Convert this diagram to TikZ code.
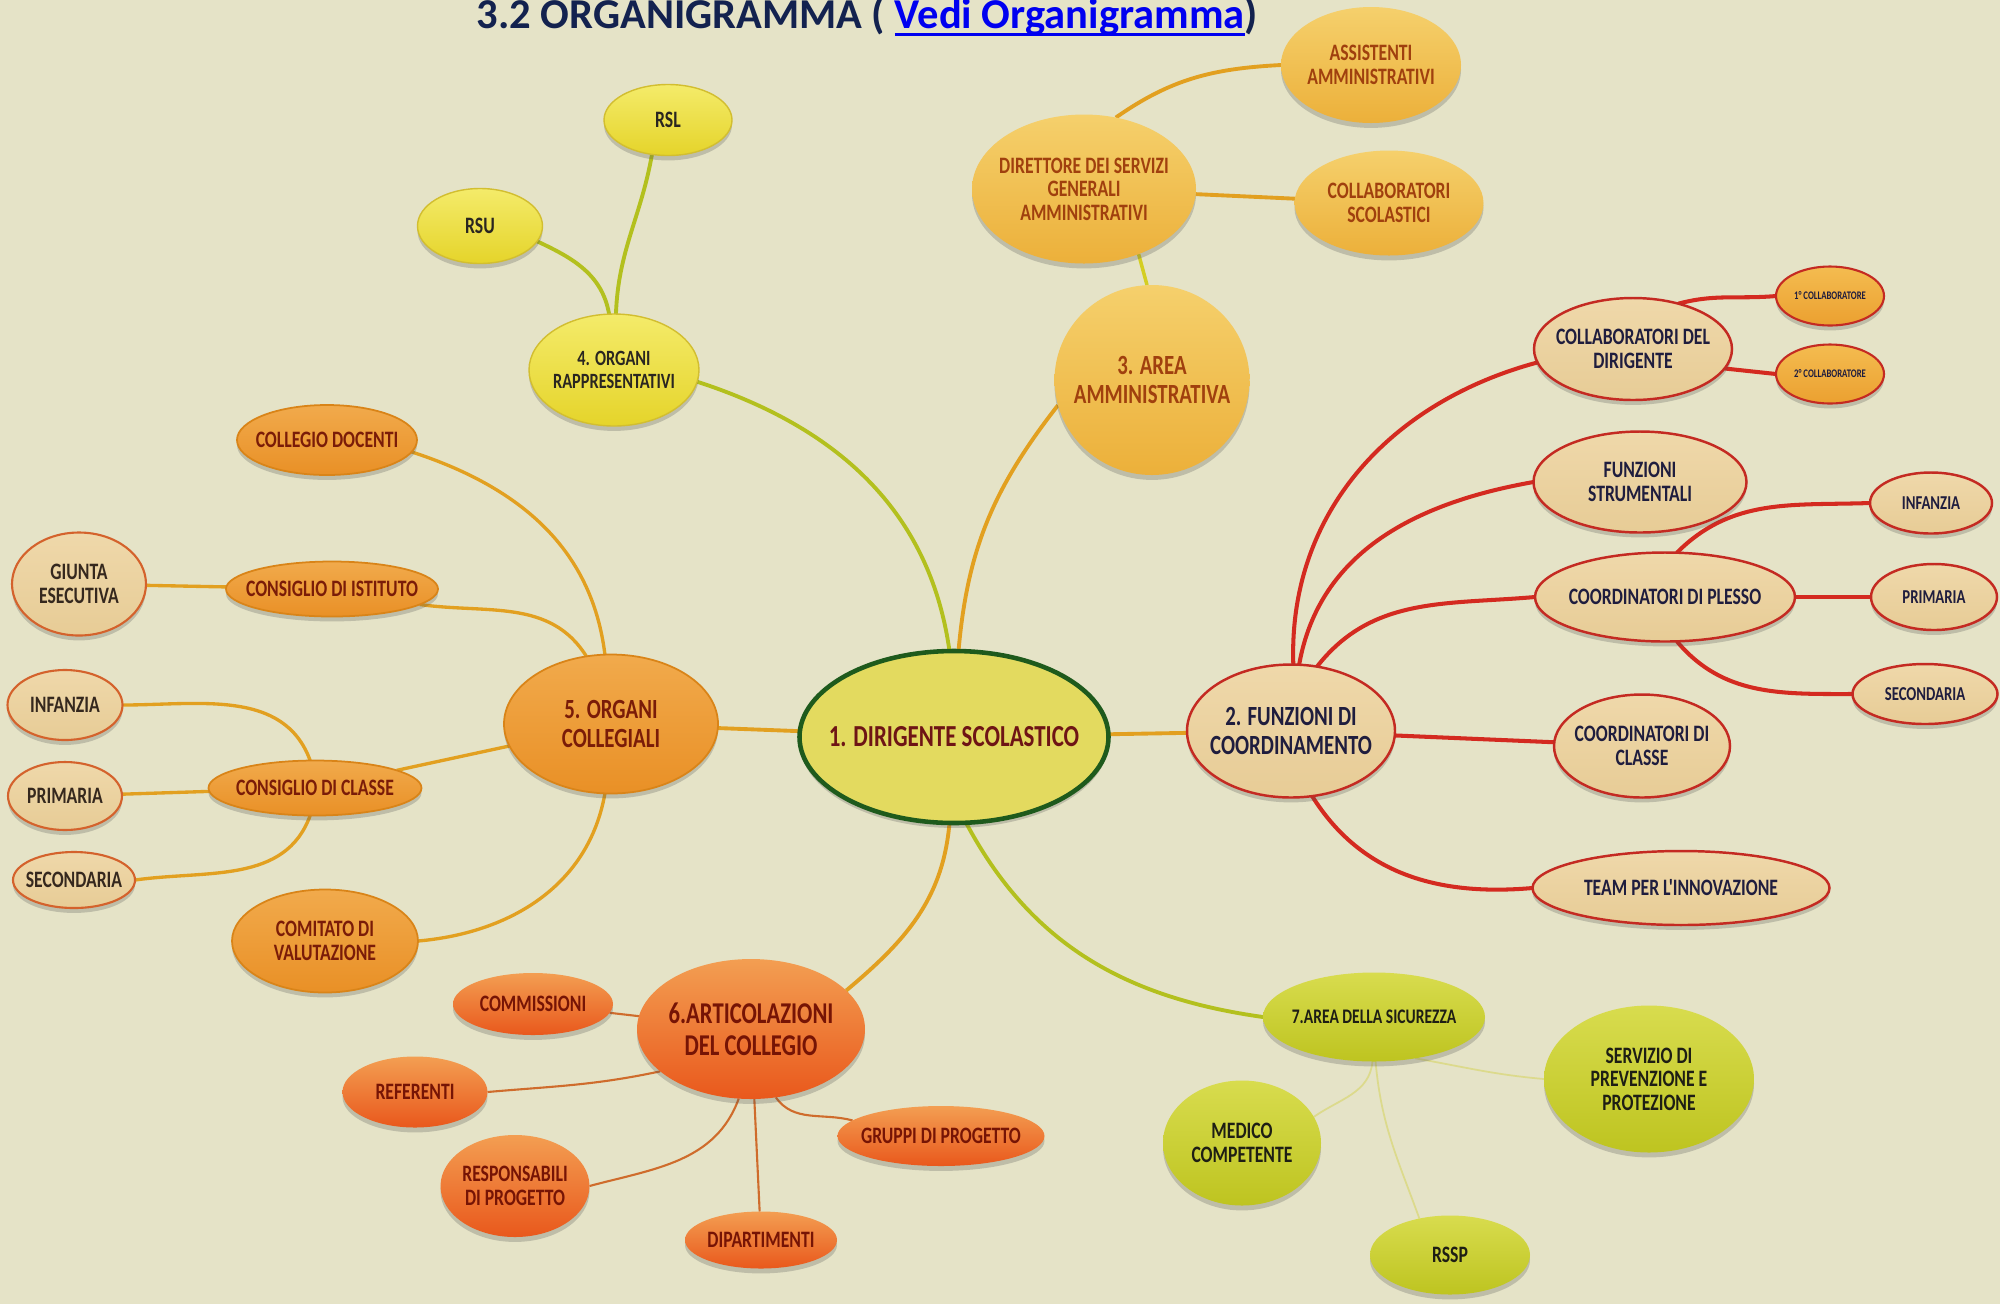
\documentclass[tikz,border=0pt]{standalone}
\usepackage{fontspec}
\setmainfont{Carlito}
\newfontfamily\nodefont{Carlito}[FakeStretch=0.75]
\usetikzlibrary{shapes.geometric,shadows}

% palette
\definecolor{bg}{HTML}{E5E3C7}
\definecolor{titlenavy}{HTML}{13224F}
\definecolor{linkblue}{HTML}{0000F0}
\definecolor{mainfill}{HTML}{E3DA5F}
\definecolor{mainborder}{HTML}{1E5A1C}
\definecolor{maintxt}{HTML}{6E1515}
\definecolor{tantop}{HTML}{EFD8AA}
\definecolor{tanbot}{HTML}{E7CC96}
\definecolor{redborder}{HTML}{C42A22}
\definecolor{tantxt}{HTML}{1F1D3E}
\definecolor{ltanborder}{HTML}{D4622C}
\definecolor{ltantxt}{HTML}{35281E}
\definecolor{ofivetop}{HTML}{F1AA4C}
\definecolor{ofivebot}{HTML}{E99026}
\definecolor{ofiveborder}{HTML}{D98418}
\definecolor{ofivetxt}{HTML}{7A1C08}
\definecolor{othreetop}{HTML}{F5D06C}
\definecolor{othreebot}{HTML}{ECB03A}
\definecolor{othreetxt}{HTML}{A0400E}
\definecolor{yfourtop}{HTML}{F4EB6A}
\definecolor{yfourbot}{HTML}{E5D42A}
\definecolor{yfourborder}{HTML}{D2BE30}
\definecolor{yfourtxt}{HTML}{2A2620}
\definecolor{osixtop}{HTML}{F39E52}
\definecolor{osixbot}{HTML}{E9581C}
\definecolor{osixtxt}{HTML}{761405}
\definecolor{gseventop}{HTML}{D8DC4E}
\definecolor{gsevenbot}{HTML}{BEC420}
\definecolor{gseventxt}{HTML}{1E1E14}
\definecolor{minitop}{HTML}{F4BC50}
\definecolor{minibot}{HTML}{EBA030}
\definecolor{lineY}{HTML}{B3C01E}
\definecolor{lineO}{HTML}{E2A020}
\definecolor{lineR}{HTML}{D42A20}
\definecolor{lineSix}{HTML}{CF6C2C}
\definecolor{lineP}{HTML}{DCDA8C}
\definecolor{lineThree}{HTML}{D4CE22}

% underline drawn as a rule just below the baseline
\newcommand\linkline[1]{\leavevmode\setbox0\hbox{#1}\rlap{\rule[-2.2pt]{\wd0}{0.9pt}}\box0}

\pgfdeclarelayer{edges}
\pgfsetlayers{edges,main}

\tikzset{
  blob/.style={ellipse, inner sep=0pt, outer sep=0pt},
  softshadow/.style={drop shadow={shadow xshift=0pt, shadow yshift=-1.4pt, opacity=0.25, fill=black!70}},
  mainov/.style={blob, fill=mainfill, draw=mainborder, line width=1.3pt, softshadow},
  tanov/.style={blob, top color=tantop, bottom color=tanbot, draw=redborder, line width=0.7pt, softshadow},
  ltanov/.style={blob, top color=tantop, bottom color=tanbot, draw=ltanborder, line width=0.6pt, softshadow},
  fiveov/.style={blob, top color=ofivetop, bottom color=ofivebot, draw=ofiveborder, line width=0.5pt, softshadow},
  threeov/.style={blob, top color=othreetop, bottom color=othreebot, softshadow},
  fourov/.style={blob, top color=yfourtop, bottom color=yfourbot, draw=yfourborder, line width=0.4pt, softshadow},
  sixov/.style={blob, top color=osixtop, bottom color=osixbot, softshadow},
  sevenov/.style={blob, top color=gseventop, bottom color=gsevenbot, softshadow},
  miniov/.style={blob, top color=minitop, bottom color=minibot, draw=redborder, line width=0.6pt, softshadow},
  tmain/.style={font=\nodefont\bfseries\fontsize{8.7}{9.2}\selectfont, align=center, text=maintxt},
  tone/.style={font=\nodefont\bfseries\fontsize{7.9}{8.5}\selectfont, align=center},
  tsixx/.style={font=\nodefont\bfseries\fontsize{8.6}{9.0}\selectfont, align=center},
  tkid/.style={font=\nodefont\bfseries\fontsize{6.7}{6.7}\selectfont, align=center},
  tfour/.style={font=\nodefont\bfseries\fontsize{6.2}{6.6}\selectfont, align=center},
  tsev/.style={font=\nodefont\bfseries\fontsize{5.9}{6.3}\selectfont, align=center},
  tsm/.style={font=\nodefont\bfseries\fontsize{5.6}{5.8}\selectfont, align=center},
  ttiny/.style={font=\nodefont\bfseries\fontsize{3.3}{3.5}\selectfont, align=center},
  lnY/.style={draw=lineY, line width=1.1pt},
  lnO/.style={draw=lineO, line width=1.1pt},
  lnFive/.style={draw=lineO, line width=0.95pt},
  lnR/.style={draw=lineR, line width=1.15pt},
  lnSix/.style={draw=lineSix, line width=0.6pt},
  lnP/.style={draw=lineP, line width=0.5pt},
}

\begin{document}
\begin{tikzpicture}
\useasboundingbox (0,0) rectangle (20,-13.04);
\begin{pgfonlayer}{edges}
  \fill[bg] (0,0) rectangle (20,-13.04);
\end{pgfonlayer}
\clip (0,0) rectangle (20,-13.04);

% heading
\node[anchor=base west, inner sep=0pt, text=titlenavy,
      font=\bfseries\fontsize{12.1}{14}\selectfont] (title) at (4.76,-0.285)
  {3.2 ORGANIGRAMMA ( {\color{linkblue}\linkline{Vedi Organigramma}})};

% centre
\node[mainov, minimum width=3.09cm, minimum height=1.72cm,
      label={[tmain]center:1. DIRIGENTE SCOLASTICO}] (c) at (9.54,-7.37) {};

% 2. coordination
\node[tanov, minimum width=2.08cm, minimum height=1.33cm,
      label={[tone,text=tantxt]center:{2. FUNZIONI DI\\COORDINAMENTO}}] (n2) at (12.91,-7.31) {};
\node[tanov, minimum width=1.98cm, minimum height=1.02cm,
      label={[tkid,text=tantxt]center:{COLLABORATORI DEL\\DIRIGENTE}}] (cdir) at (16.33,-3.49) {};
\node[miniov, minimum width=1.08cm, minimum height=0.59cm,
      label={[ttiny,text=tantxt]center:{1° COLLABORATORE}}] (ca) at (18.30,-2.96) {};
\node[miniov, minimum width=1.08cm, minimum height=0.59cm,
      label={[ttiny,text=tantxt]center:{2° COLLABORATORE}}] (cb) at (18.30,-3.74) {};
\node[tanov, minimum width=2.13cm, minimum height=1.01cm,
      label={[tkid,text=tantxt]center:{FUNZIONI\\STRUMENTALI}}] (fstr) at (16.40,-4.82) {};
\node[tanov, minimum width=2.60cm, minimum height=0.89cm,
      label={[tkid,text=tantxt]center:{COORDINATORI DI PLESSO}}] (cpl) at (16.65,-5.97) {};
\node[tanov, minimum width=1.22cm, minimum height=0.61cm,
      label={[tsm,text=tantxt]center:{INFANZIA}}] (infr) at (19.31,-5.03) {};
\node[tanov, minimum width=1.26cm, minimum height=0.66cm,
      label={[tsm,text=tantxt]center:{PRIMARIA}}] (prr) at (19.34,-5.97) {};
\node[tanov, minimum width=1.45cm, minimum height=0.60cm,
      label={[tsm,text=tantxt]center:{SECONDARIA}}] (secr) at (19.25,-6.94) {};
\node[tanov, minimum width=1.76cm, minimum height=1.03cm,
      label={[tkid,text=tantxt]center:{COORDINATORI DI\\CLASSE}}] (ccl) at (16.42,-7.46) {};
\node[tanov, minimum width=2.97cm, minimum height=0.74cm,
      label={[tkid,text=tantxt]center:{TEAM PER L'INNOVAZIONE}}] (team) at (16.81,-8.88) {};

% 3. administration
\node[threeov, minimum width=1.95cm, minimum height=1.90cm,
      label={[tone,text=othreetxt]center:{3. AREA\\AMMINISTRATIVA}}] (n3) at (11.52,-3.80) {};
\node[threeov, minimum width=2.24cm, minimum height=1.49cm,
      label={[tkid,text=othreetxt]center:{DIRETTORE DEI SERVIZI\\GENERALI\\AMMINISTRATIVI}}] (dir) at (10.84,-1.89) {};
\node[threeov, minimum width=1.80cm, minimum height=1.16cm,
      label={[tkid,text=othreetxt]center:{ASSISTENTI\\AMMINISTRATIVI}}] (assist) at (13.71,-0.65) {};
\node[threeov, minimum width=1.89cm, minimum height=1.05cm,
      label={[tkid,text=othreetxt]center:{COLLABORATORI\\SCOLASTICI}}] (collsc) at (13.89,-2.03) {};

% 4. representative bodies
\node[fourov, minimum width=1.70cm, minimum height=1.12cm,
      label={[tfour,text=yfourtxt]center:{4. ORGANI\\RAPPRESENTATIVI}}] (n4) at (6.14,-3.70) {};
\node[fourov, minimum width=1.25cm, minimum height=0.75cm,
      label={[tkid,text=yfourtxt]center:{RSU}}] (rsu) at (4.80,-2.26) {};
\node[fourov, minimum width=1.28cm, minimum height=0.71cm,
      label={[tkid,text=yfourtxt]center:{RSL}}] (rsl) at (6.68,-1.20) {};

% 5. collegial bodies
\node[fiveov, minimum width=2.14cm, minimum height=1.39cm,
      label={[tone,text=ofivetxt]center:{5. ORGANI\\COLLEGIALI}}] (n5) at (6.11,-7.24) {};
\node[fiveov, minimum width=1.80cm, minimum height=0.70cm,
      label={[tkid,text=ofivetxt]center:{COLLEGIO DOCENTI}}] (colld) at (3.27,-4.40) {};
\node[fiveov, minimum width=2.12cm, minimum height=0.55cm,
      label={[tkid,text=ofivetxt]center:{CONSIGLIO DI ISTITUTO}}] (cist) at (3.32,-5.89) {};
\node[ltanov, minimum width=1.34cm, minimum height=1.03cm,
      label={[tkid,text=ltantxt]center:{GIUNTA\\ESECUTIVA}}] (giunta) at (0.79,-5.84) {};
\node[fiveov, minimum width=2.13cm, minimum height=0.55cm,
      label={[tkid,text=ofivetxt]center:{CONSIGLIO DI CLASSE}}] (cdc) at (3.15,-7.88) {};
\node[ltanov, minimum width=1.15cm, minimum height=0.70cm,
      label={[tkid,text=ltantxt]center:{INFANZIA}}] (infl) at (0.65,-7.05) {};
\node[ltanov, minimum width=1.14cm, minimum height=0.68cm,
      label={[tkid,text=ltantxt]center:{PRIMARIA}}] (priml) at (0.65,-7.96) {};
\node[ltanov, minimum width=1.22cm, minimum height=0.56cm,
      label={[tkid,text=ltantxt]center:{SECONDARIA}}] (secl) at (0.74,-8.80) {};
\node[fiveov, minimum width=1.86cm, minimum height=1.03cm,
      label={[tkid,text=ofivetxt]center:{COMITATO DI\\VALUTAZIONE}}] (comit) at (3.25,-9.41) {};

% 6. articulations of the teaching staff
\node[sixov, minimum width=2.28cm, minimum height=1.40cm,
      label={[tsixx,text=osixtxt]center:{6.ARTICOLAZIONI\\DEL COLLEGIO}}] (n6) at (7.51,-10.29) {};
\node[sixov, minimum width=1.60cm, minimum height=0.62cm,
      label={[tkid,text=osixtxt]center:{COMMISSIONI}}] (comm) at (5.33,-10.04) {};
\node[sixov, minimum width=1.45cm, minimum height=0.71cm,
      label={[tkid,text=osixtxt]center:{REFERENTI}}] (ref) at (4.15,-10.92) {};
\node[sixov, minimum width=1.49cm, minimum height=1.02cm,
      label={[tkid,text=osixtxt]center:{RESPONSABILI\\DI PROGETTO}}] (resp) at (5.15,-11.86) {};
\node[sixov, minimum width=1.52cm, minimum height=0.57cm,
      label={[tkid,text=osixtxt]center:{DIPARTIMENTI}}] (dip) at (7.61,-12.40) {};
\node[sixov, minimum width=2.07cm, minimum height=0.60cm,
      label={[tkid,text=osixtxt]center:{GRUPPI DI PROGETTO}}] (grp) at (9.41,-11.36) {};

% 7. safety
\node[sevenov, minimum width=2.22cm, minimum height=0.89cm,
      label={[tsev,text=gseventxt]center:{7.AREA DELLA SICUREZZA}}] (n7) at (13.74,-10.17) {};
\node[sevenov, minimum width=2.10cm, minimum height=1.47cm,
      label={[tkid,text=gseventxt]center:{SERVIZIO DI\\PREVENZIONE E\\PROTEZIONE}}] (serv) at (16.49,-10.79) {};
\node[sevenov, minimum width=1.58cm, minimum height=1.25cm,
      label={[tkid,text=gseventxt]center:{MEDICO\\COMPETENTE}}] (med) at (12.42,-11.43) {};
\node[sevenov, minimum width=1.60cm, minimum height=0.79cm,
      label={[tkid,text=gseventxt]center:{RSSP}}] (rssp) at (14.50,-12.55) {};

% connectors, kept behind the ovals
\begin{pgfonlayer}{edges}
  % from the centre
  \draw[lnY] (c.93) to[out=98,in=-18] (n4.-8);
  \draw[lnO] (c.87) to[out=85,in=-128] (n3.195);
  \draw[lnO] (c) -- (n2);
  \draw[lnO] (c) -- (n5);
  \draw[lnO] (c.-93) to[out=-95,in=40] (n6.22);
  \draw[lnY] (c.-82) to[out=-62,in=172] (n7.west);

  % 2
  \draw[lnR] (n2.88) to[out=92,in=195] (cdir.188);
  \draw[lnR] (n2.83) to[out=80,in=190] (fstr.west);
  \draw[lnR] (n2.68) to[out=52,in=185] (cpl.west);
  \draw[lnR] (n2) -- (ccl);
  \draw[lnR] (n2.-72) to[out=-58,in=185] (team.west);
  \draw[lnR] (cdir.45) to[out=15,in=185] (ca.west);
  \draw[lnR] (cdir.-12) -- (cb.west);
  \draw[lnR] (cpl.75) to[out=45,in=182] (infr.west);
  \draw[lnR] (cpl) -- (prr);
  \draw[lnR] (cpl.-75) to[out=-50,in=180] (secr.west);

  % 3
  \draw[draw=lineThree, line width=1pt] (n3.93) -- (dir.-50);
  \draw[lnO] (dir.66) to[out=35,in=183] (assist.west);
  \draw[lnO] (dir) -- (collsc);

  % 4
  \draw[lnY] (n4.95) to[out=100,in=-25] (rsu.-15);
  \draw[lnY] (n4.88) to[out=88,in=-100] (rsl.-115);

  % 5
  \draw[lnFive] (n5.95) to[out=97,in=-18] (colld.-8);
  \draw[lnFive] (n5.110) to[out=122,in=-8] (cist.-10);
  \draw[lnFive] (cist) -- (giunta);
  \draw[lnFive] (n5) -- (cdc);
  \draw[lnFive] (n5.-95) to[out=-100,in=5] (comit.east);
  \draw[lnFive] (cdc.100) to[out=110,in=0] (infl.east);
  \draw[lnFive] (cdc) -- (priml);
  \draw[lnFive] (cdc.-100) to[out=-110,in=8] (secl.east);

  % 6
  \draw[lnSix] (n6) -- (comm);
  \draw[lnSix] (n6.205) to[out=192,in=5] (ref.east);
  \draw[lnSix] (n6.-100) to[out=-110,in=15] (resp.east);
  \draw[lnSix] (n6) -- (dip);
  \draw[lnSix] (n6.-70) to[out=-55,in=165] (grp.170);

  % 7
  \draw[lnP] (n7.-45) to[out=-10,in=175] (serv.west);
  \draw[lnP] (n7.-92) to[out=-95,in=35] (med.20);
  \draw[lnP] (n7.-88) to[out=-85,in=110] (rssp.130);
\end{pgfonlayer}
\end{tikzpicture}
\end{document}
